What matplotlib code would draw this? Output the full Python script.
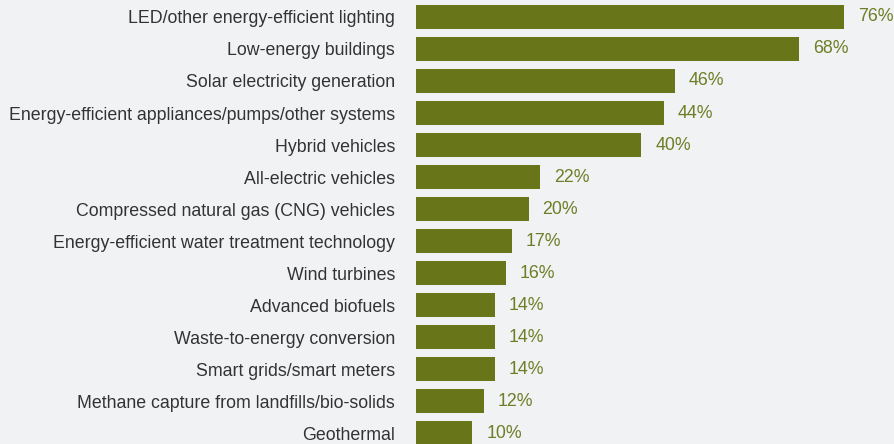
import matplotlib.pyplot as plt

categories = ['LED/other energy-efficient lighting', 'Low-energy buildings',
              'Solar electricity generation', 'Energy-efficient appliances/pumps/other systems',
              'Hybrid vehicles', 'All-electric vehicles', 'Compressed natural gas (CNG) vehicles',
              'Energy-efficient water treatment technology', 'Wind turbines', 'Advanced biofuels',
              'Waste-to-energy conversion', 'Smart grids/smart meters',
              'Methane capture from landfills/bio-solids', 'Geothermal']
values = [76, 68, 46, 44, 40, 22, 20, 17, 16, 14, 14, 14, 12, 10]

bg = '#f1f2f4'
bar_color = '#687519'
val_color = '#6e7d26'

plt.rcParams['font.family'] = ['Liberation Sans', 'DejaVu Sans']

fig = plt.figure(figsize=(8.95, 4.44), dpi=100, facecolor=bg)
ax = fig.add_axes([416 / 895, 0, 1 - 416 / 895, 1], facecolor=bg)

ypos = list(range(len(categories)))
ax.barh(ypos, values, height=0.75, color=bar_color)

for y, v in zip(ypos, values):
    ax.annotate(f'{v}%', (v, y), xytext=(14, 0), textcoords='offset pixels',
                va='center', ha='left', fontsize=12.8, color=val_color)

ax.set_yticks(ypos)
ax.set_yticklabels(categories, fontsize=12.8, color='#333333')
ax.tick_params(axis='y', length=0, pad=15)
ax.set_xticks([])
ax.set_xlim(0, (895 - 416) / 5.63)
ax.set_ylim(13.34, -0.53)
for s in ax.spines.values():
    s.set_visible(False)

fig.savefig('out.png', dpi=100, facecolor=bg)
